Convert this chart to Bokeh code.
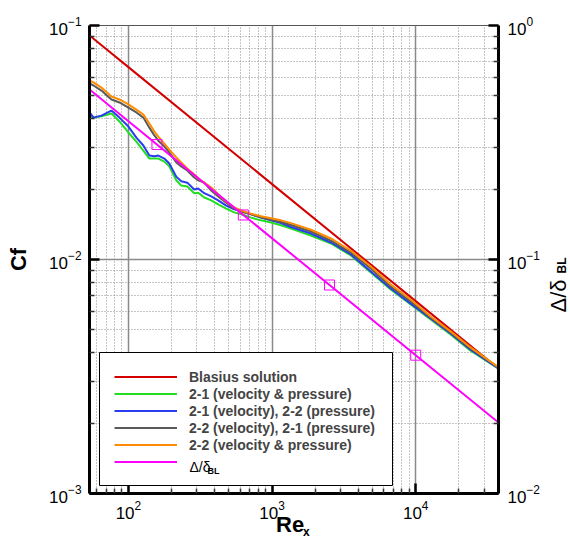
import math
from bokeh.plotting import figure
from bokeh.models import (Range1d, LogScale, LogAxis, FixedTicker, LogTickFormatter,
                          Legend, LegendItem, Label, BoxAnnotation)
from bokeh.embed import file_html
from bokeh.resources import INLINE

FONT = "Liberation Sans"

# ---------------- data ----------------
re_cfd = [53.6, 57.2, 64.9, 76.2, 86.6, 100, 113.6, 127.1, 139.9, 151.6,
          161.6, 177.8, 192.6, 215.4, 233.3, 256.9, 287.2, 306.2, 337.3, 377,
          421.7, 479.6, 545.1, 609.6, 714.5, 838.9, 984.1, 1155, 1355, 1866,
          2570, 3539, 4870, 6700, 9230, 12700, 17500, 24100, 37700]

cf_21_vp = [0.0409, 0.0404, 0.0409, 0.0421, 0.0389, 0.0349, 0.0319, 0.0292, 0.0270, 0.0270,
            0.0270, 0.0262, 0.0250, 0.0218, 0.0207, 0.0205, 0.0192, 0.0193, 0.0184, 0.0179,
            0.0172, 0.0165, 0.0159, 0.0156, 0.0151, 0.0147, 0.0144, 0.0140, 0.01356, 0.01267,
            0.01171, 0.01040, 0.00880, 0.00744, 0.00642, 0.00554, 0.00478, 0.00408, 0.00342]

cf_21v_22p = [0.0425, 0.0404, 0.0412, 0.0433, 0.0404, 0.0370, 0.0332, 0.0307, 0.0278, 0.0276,
              0.0278, 0.0270, 0.0257, 0.0226, 0.0216, 0.0213, 0.0199, 0.0201, 0.0192, 0.0186,
              0.0179, 0.0170, 0.0164, 0.0161, 0.0156, 0.0151, 0.0147, 0.0143, 0.01377, 0.01291,
              0.01182, 0.01051, 0.00888, 0.00752, 0.00648, 0.00560, 0.00483, 0.00412, 0.00342]

cf_22v_21p = [0.0565, 0.0554, 0.0527, 0.0483, 0.0469, 0.0446, 0.0425, 0.0404, 0.0366, 0.0339,
              0.0322, 0.0304, 0.0287, 0.0260, 0.0250, 0.0240, 0.0224, 0.0218, 0.0213, 0.0197,
              0.0186, 0.0175, 0.0165, 0.0160, 0.0156, 0.0151, 0.0148, 0.01446, 0.01404, 0.01317,
              0.01205, 0.01071, 0.00915, 0.00767, 0.00661, 0.00565, 0.00488, 0.00417, 0.00346]

cf_22_vp = [0.0582, 0.0571, 0.0543, 0.0497, 0.0483, 0.0460, 0.0437, 0.0416, 0.0381, 0.0352,
            0.0335, 0.0313, 0.0295, 0.0273, 0.0260, 0.0245, 0.0231, 0.0222, 0.0213, 0.0203,
            0.0190, 0.0177, 0.0167, 0.0162, 0.0157, 0.0153, 0.0150, 0.0147, 0.0143, 0.0134,
            0.0123, 0.0109, 0.00934, 0.00782, 0.00675, 0.00571, 0.00493, 0.00421, 0.00346]

re_blasius = [53.6, 100, 1000, 10000, 37700]
cf_blasius = [0.0907, 0.0664, 0.0210, 0.00664, 0.00342]

re_delta = [53.6, 158, 631, 2512, 10000, 37700]
delta_bl = [0.533, 0.310, 0.155, 0.0778, 0.0390, 0.0201]
re_delta_sym = [158, 631, 2512, 10000]
delta_bl_sym = [0.310, 0.155, 0.0778, 0.0390]

legend_labels = ["Blasius solution", "2-1 (velocity & pressure)",
                 "2-1 (velocity), 2-2 (pressure)", "2-2 (velocity), 2-1 (pressure)",
                 "2-2 (velocity & pressure)", " "]

x_major = [1e2, 1e3, 1e4]
x_minor = [m * 10 ** k for k in (1, 2, 3, 4) for m in range(2, 10)]
y_major = [1e-3, 1e-2, 1e-1]
y_minor = [m * 10 ** k for k in (-3, -2) for m in range(2, 10)]
yr_major = [1e-2, 1e-1, 1e0]
yr_minor = [m * 10 ** k for k in (-2, -1) for m in range(2, 10)]

# ---------------- figure ----------------
p = figure(width=570, height=538, x_axis_type="log", y_axis_type="log",
           x_range=Range1d(53.6, 37700), y_range=Range1d(1e-3, 1e-1),
           output_backend="svg", toolbar_location=None,
           min_border_left=88, min_border_right=72, min_border_top=25, min_border_bottom=45,
           background_fill_color="white", border_fill_color="white")
p.outline_line_color = "#555555"
p.outline_line_width = 1

p.extra_y_ranges = {"d": Range1d(1e-2, 1e0)}
p.extra_y_scales = {"d": LogScale()}
ax_r = LogAxis(y_range_name="d")
p.add_layout(ax_r, "right")

xt = FixedTicker(ticks=x_major, minor_ticks=x_minor)
yt = FixedTicker(ticks=y_major, minor_ticks=y_minor)
yrt = FixedTicker(ticks=yr_major, minor_ticks=yr_minor)
p.xaxis[0].ticker = xt
p.yaxis[0].ticker = yt
ax_r.ticker = yrt
p.xgrid[0].ticker = xt
p.ygrid[0].ticker = yt


def style(ax, standoff):
    ax.formatter = LogTickFormatter()
    ax.axis_line_width = 3
    ax.axis_line_color = "black"
    ax.major_tick_in = 10
    ax.major_tick_out = 0
    ax.major_tick_line_width = 2.5
    ax.major_tick_line_color = "black"
    ax.minor_tick_in = 5
    ax.minor_tick_out = 0
    ax.minor_tick_line_width = 1.5
    ax.minor_tick_line_color = "#333333"
    ax.major_label_text_font = FONT
    ax.major_label_text_font_size = "17px"
    ax.major_label_text_color = "black"
    ax.major_label_standoff = standoff
    ax.axis_label = None


style(p.xaxis[0], 7)
style(p.yaxis[0], 8)
style(ax_r, 9)

for g in (p.xgrid[0], p.ygrid[0]):
    g.grid_line_color = "#8a8a8a"
    g.grid_line_width = 1.5
    g.minor_grid_line_color = "#8a8a8a"
    g.minor_grid_line_width = 1
    g.minor_grid_line_dash = "1 2"

# ---------------- series ----------------
r_bl = p.line(re_blasius, cf_blasius, line_color="#d40000", line_width=2)
r_g = p.line(re_cfd, cf_21_vp, line_color="#22dd22", line_width=2)
r_b = p.line(re_cfd, cf_21v_22p, line_color="#2a3cf0", line_width=2)
r_k = p.line(re_cfd, cf_22v_21p, line_color="#5a5a5a", line_width=2)
r_o = p.line(re_cfd, cf_22_vp, line_color="#ff8c00", line_width=2)
r_m = p.line(re_delta, delta_bl, line_color="#ff00ff", line_width=2, y_range_name="d")
p.scatter(re_delta_sym, delta_bl_sym, marker="square", size=10, fill_color=None,
          line_color="#ff00ff", line_width=1, y_range_name="d")

# legend frame (white box with black border), then the legend itself without background
p.add_layout(BoxAnnotation(left=10, right=303, bottom=8, top=141,
                           left_units="screen", right_units="screen",
                           bottom_units="screen", top_units="screen",
                           fill_color="white", fill_alpha=1.0,
                           line_color="black", line_width=1, line_alpha=1.0))

legend = Legend(items=[LegendItem(label=lab, renderers=[r])
                       for lab, r in zip(legend_labels, [r_bl, r_g, r_b, r_k, r_o, r_m])],
                location=(10, 8), orientation="vertical",
                border_line_alpha=0, background_fill_alpha=0,
                label_text_font=FONT, label_text_font_size="14px",
                label_text_font_style="bold", glyph_width=63, glyph_height=17,
                label_height=17, spacing=0, padding=15, label_standoff=12, margin=0)
p.add_layout(legend)


# ---------------- text labels ----------------
def mk(text, x, y, size, style="normal", angle=0.0, align="left", baseline="alphabetic"):
    return Label(x=x, y=y, x_units="screen", y_units="screen", text=text,
                 angle=angle, text_align=align, text_baseline=baseline,
                 text_font=FONT, text_font_size=size, text_font_style=style,
                 text_color="black")


# left side panel: Cf, the right-axis subscript and the Re subscript (moved into place)
p.add_layout(mk("Cf", -3, 234, "22px", "bold", math.pi / 2, "center", "middle"), "left")
p.add_layout(mk("BL", 554.5, 220, "12px", "bold", math.pi / 2), "left")
p.add_layout(mk("x", 302.6, -38, "12px", "bold"), "left")
# top panel: Re
p.add_layout(mk("Re", 186.5, -498.5, "22px", "bold"), "above")
# right panel: Δ/δ
p.add_layout(mk("\u0394/\u03b4", 16, 181, "22px", "normal", math.pi / 2), "right")
# legend entry text for Δ/δ_BL
p.add_layout(mk("\u0394/\u03b4", 100, 26.5, "14px"))
p.add_layout(mk("BL", 118, 23, "9px", "bold"))

open("out.html", "w").write(file_html(p, INLINE))
